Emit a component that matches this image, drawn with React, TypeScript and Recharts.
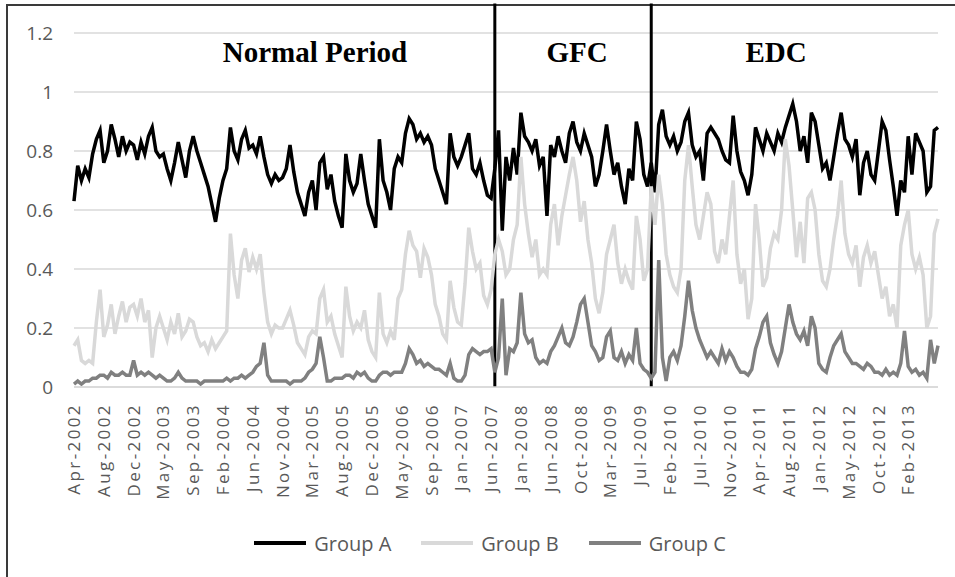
import React from "react";
import { LineChart, Line, XAxis, YAxis, CartesianGrid, Legend, ReferenceLine } from "recharts";

// date labels shown on the category axis, one every POINTS_PER_LABEL observations
const tickLabels = [
  "Apr-2002", "Aug-2002", "Dec-2002", "May-2003", "Sep-2003", "Feb-2004", "Jun-2004", "Nov-2004",
  "Mar-2005", "Aug-2005", "Dec-2005", "May-2006", "Sep-2006", "Jan-2007", "Jun-2007", "Jan-2008",
  "Jun-2008", "Oct-2008", "Mar-2009", "Jul-2009", "Feb-2010", "Jul-2010", "Nov-2010", "Apr-2011",
  "Aug-2011", "Jan-2012", "May-2012", "Oct-2012", "Feb-2013",
];
const POINTS_PER_LABEL = 8;

// values in hundredths (8 per label interval)
const groupA = [
  63, 75, 70, 74, 71, 79, 84, 87,
  76, 80, 89, 84, 78, 85, 80, 83,
  82, 77, 83, 79, 85, 88, 80, 78,
  79, 74, 70, 76, 83, 77, 71, 80,
  85, 80, 76, 72, 68, 62, 56, 64,
  70, 74, 88, 80, 77, 84, 87, 81,
  82, 79, 85, 78, 72, 69, 72, 70,
  71, 74, 82, 73, 66, 62, 58, 66,
  70, 60, 76, 78, 67, 72, 63, 58,
  54, 79, 70, 66, 69, 79, 70, 62,
  58, 54, 84, 70, 66, 60, 74, 78,
  76, 86, 91, 89, 84, 86, 83, 85,
  82, 74, 70, 66, 62, 86, 78, 75,
  78, 82, 86, 74, 72, 76, 70, 65,
  64, 74, 87, 53, 78, 70, 81, 72,
  93, 85, 83, 80, 84, 75, 78, 58,
  82, 78, 85, 80, 76, 86, 90, 83,
  80, 86, 82, 78, 68, 72, 80, 89,
  80, 72, 76, 68, 62, 74, 70, 90,
  84, 72, 68, 76, 66, 89, 94, 85,
  82, 85, 80, 83, 90, 93, 82, 78,
  80, 70, 86, 88, 86, 84, 80, 77,
  76, 92, 80, 73, 70, 65, 72, 88,
  84, 80, 86, 83, 80, 86, 83, 88,
  92, 96, 90, 80, 85, 76, 93, 90,
  82, 74, 76, 70, 78, 86, 93, 84,
  82, 78, 84, 65, 76, 80, 72, 70,
  80, 90, 87, 77, 68, 58, 70, 66,
  85, 72, 86, 83, 80, 66, 68, 87, 88,
];

const groupB = [
  14, 16, 9, 8, 9, 8, 22, 33,
  17, 21, 28, 18, 24, 29, 22, 27,
  28, 24, 30, 22, 26, 10, 20, 24,
  20, 16, 22, 18, 25, 17, 19, 23,
  22, 17, 14, 15, 12, 16, 13, 15,
  17, 19, 52, 38, 30, 43, 47, 39,
  44, 40, 45, 32, 22, 18, 21, 20,
  20, 23, 26, 21, 15, 13, 11, 17,
  19, 18, 30, 33, 22, 24, 18, 14,
  10, 34, 24, 19, 22, 20, 26, 16,
  12, 10, 32, 18, 15, 19, 16, 30,
  33, 45, 53, 48, 46, 37, 47, 44,
  38, 28, 24, 18, 16, 36, 27, 22,
  21, 35, 54, 46, 40, 42, 31, 28,
  33, 45, 50, 46, 38, 40, 50, 55,
  78, 62, 52, 44, 50, 38, 40, 38,
  55, 62, 48, 58, 65, 72, 78, 70,
  56, 63, 50, 42, 30, 25, 32, 45,
  50, 55, 42, 35, 40, 36, 33, 58,
  50, 36, 40, 68, 55, 72, 62, 45,
  38, 34, 32, 40, 70, 82, 68, 55,
  50, 58, 66, 62, 46, 42, 50, 45,
  58, 70, 45, 35, 40, 23, 30, 62,
  50, 34, 37, 47, 52, 50, 60, 84,
  75, 60, 44, 56, 42, 64, 66, 60,
  45, 36, 34, 40, 50, 58, 70, 52,
  45, 42, 48, 34, 44, 48, 42, 46,
  38, 30, 34, 24, 28, 20, 48, 55,
  60, 45, 40, 44, 38, 20, 24, 52, 57,
];

const groupC = [
  1, 2, 1, 2, 2, 3, 3, 4,
  4, 3, 5, 4, 4, 5, 4, 4,
  9, 4, 5, 4, 5, 4, 3, 4,
  3, 2, 2, 3, 5, 3, 2, 2,
  2, 2, 1, 2, 2, 2, 2, 2,
  2, 3, 2, 3, 3, 4, 3, 4,
  5, 7, 8, 15, 4, 2, 2, 2,
  2, 2, 1, 2, 2, 2, 3, 5,
  6, 8, 17, 10, 2, 2, 3, 3,
  3, 4, 4, 3, 5, 4, 5, 3,
  2, 2, 4, 5, 5, 4, 5, 5,
  5, 8, 13, 11, 8, 9, 7, 8,
  7, 6, 6, 5, 4, 8, 3, 2,
  2, 4, 11, 13, 12, 11, 12, 12,
  13, 5, 10, 30, 4, 13, 12, 15,
  32, 18, 15, 16, 10, 8, 9, 8,
  12, 14, 17, 20, 15, 14, 17, 22,
  28, 30, 22, 14, 12, 9, 10, 17,
  19, 10, 9, 12, 8, 11, 9, 20,
  8, 6, 5, 3, 5, 43, 10, 2,
  10, 12, 9, 14, 24, 36, 26, 20,
  16, 13, 10, 12, 10, 8, 13, 9,
  12, 10, 7, 5, 5, 4, 6, 13,
  17, 22, 24, 15, 11, 8, 12, 20,
  28, 22, 18, 16, 19, 14, 24, 20,
  8, 6, 5, 10, 14, 16, 18, 12,
  10, 8, 8, 7, 6, 8, 7, 5,
  5, 4, 6, 4, 5, 4, 8, 19,
  7, 5, 6, 4, 5, 3, 16, 8, 14,
];

// observation index where the GFC and the EDC start
const periodBreaks = [113, 155];
const periods = [
  { name: "Normal Period", left: 315 },
  { name: "GFC", left: 577 },
  { name: "EDC", left: 776 },
];

const yTicks = [0, 0.2, 0.4, 0.6, 0.8, 1, 1.2];

const data = groupA.map((a, i) => ({
  idx: i,
  groupA: a / 100,
  groupB: groupB[i] / 100,
  groupC: groupC[i] / 100,
}));

const xTicks = tickLabels.map((_, i) => i * POINTS_PER_LABEL);

const AXIS_TEXT = "#595959";
const FONT = "'Open Sans', sans-serif";

const XTick = ({ x, y, payload }: any) => (
  <text
    x={x}
    y={y}
    transform={`rotate(-90 ${x} ${y})`}
    textAnchor="end"
    dy="0.36em"
    fontSize={17}
    letterSpacing={2.4}
    fill={AXIS_TEXT}
    fontFamily={FONT}
  >
    {tickLabels[Math.round(payload.value / POINTS_PER_LABEL)]}
  </text>
);

const LegendContent = ({ payload }: any) => (
  <div style={{ display: "flex", justifyContent: "center", alignItems: "center", height: 28, paddingLeft: 25 }}>
    {(payload || []).map((p: any) => (
      <div key={p.value} style={{ display: "flex", alignItems: "center", margin: "0 15px" }}>
        <svg width={52} height={6}>
          <line x1={0} y1={3} x2={52} y2={3} stroke={p.color} strokeWidth={4} />
        </svg>
        <span style={{ marginLeft: 8, fontSize: 20, color: AXIS_TEXT, fontFamily: FONT }}>{p.value}</span>
      </div>
    ))}
  </div>
);

export default function App() {
  return (
    <div style={{ position: "absolute", left: 0, top: 0, width: 955, height: 577, overflow: "hidden", background: "#fff" }}>
      <div
        style={{
          position: "absolute",
          left: 6,
          top: 4,
          width: 1000,
          height: 620,
          border: "2px solid #3a3a3a",
        }}
      />
      <LineChart
        width={955}
        height={577}
        data={data}
        margin={{ top: 33, right: 17, left: 24, bottom: 20 }}
        style={{ position: "absolute", left: 0, top: 0 }}
      >
        <CartesianGrid vertical={false} stroke="#d9d9d9" strokeWidth={1.5} />
        <XAxis
          dataKey="idx"
          type="number"
          domain={[0, groupA.length - 1]}
          ticks={xTicks}
          interval={0}
          tick={<XTick />}
          tickLine={false}
          axisLine={{ stroke: "#d9d9d9", strokeWidth: 1.5 }}
          tickSize={8}
          tickMargin={8}
          height={142}
        />
        <YAxis
          domain={[0, 1.2]}
          ticks={yTicks}
          width={50}
          axisLine={false}
          tickLine={false}
          tickSize={0}
          tickMargin={21}
          tick={{ fill: AXIS_TEXT, fontSize: 19, fontFamily: FONT }}
        />
        {periodBreaks.map((b) => (
          <ReferenceLine
            key={b}
            segment={[{ x: b, y: 0 }, { x: b, y: 1.3 }]}
            stroke="#000"
            strokeWidth={3}
            ifOverflow="visible"
          />
        ))}
        <Line type="linear" dataKey="groupA" name="Group A" stroke="#000000" strokeWidth={3.5} dot={false} isAnimationActive={false} />
        <Line type="linear" dataKey="groupB" name="Group B" stroke="#d9d9d9" strokeWidth={3.5} dot={false} isAnimationActive={false} />
        <Line type="linear" dataKey="groupC" name="Group C" stroke="#808080" strokeWidth={3.5} dot={false} isAnimationActive={false} />
        <Legend
          verticalAlign="bottom"
          content={<LegendContent />}
          wrapperStyle={{ left: 0, width: 955, height: 28 }}
        />
      </LineChart>
      {periods.map((p) => (
        <div
          key={p.name}
          style={{
            position: "absolute",
            left: p.left,
            top: 52,
            transform: "translate(-50%, -50%)",
            fontFamily: "'Liberation Serif', serif",
            fontWeight: "bold",
            fontSize: 29,
            lineHeight: 1,
            whiteSpace: "nowrap",
            color: "#000",
          }}
        >
          {p.name}
        </div>
      ))}
    </div>
  );
}
